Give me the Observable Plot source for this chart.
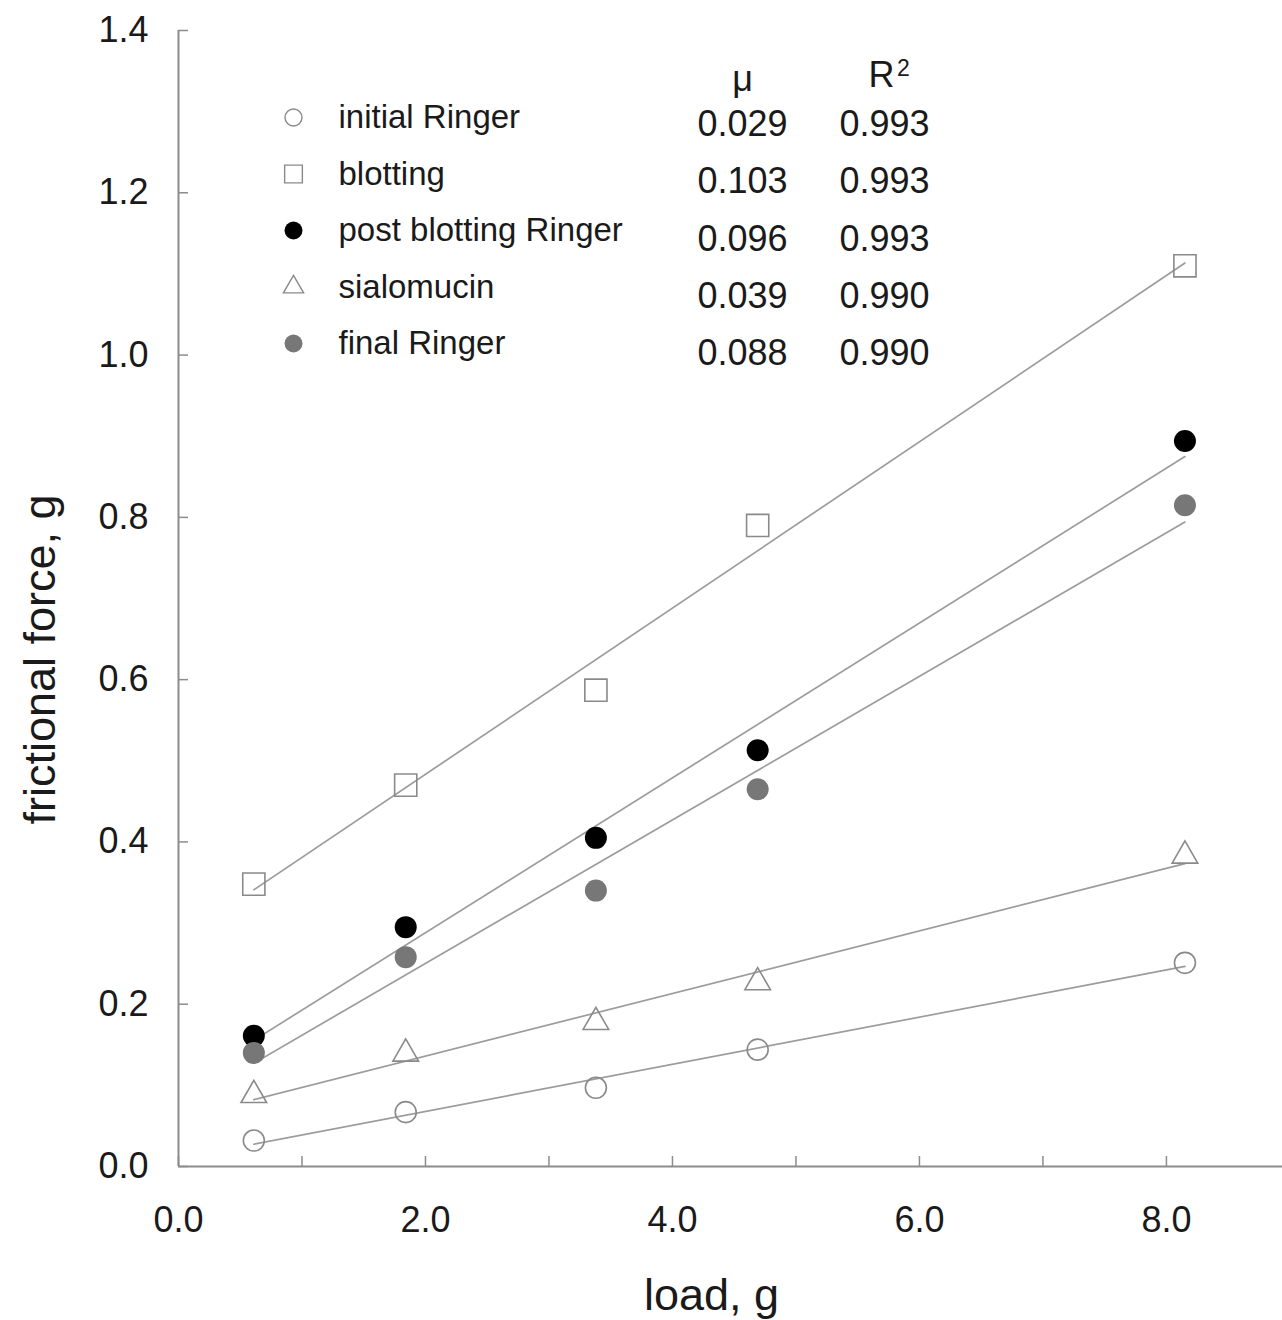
<!DOCTYPE html>
<html>
<head>
<meta charset="utf-8">
<script src="https://cdn.jsdelivr.net/npm/d3@7"></script>
<script src="https://cdn.jsdelivr.net/npm/@observablehq/plot@0.6"></script>
<style>
  html, body { margin: 0; padding: 0; background: #fff; }
  #chart { width: 1282px; height: 1320px; }
  svg { font-family: "Liberation Sans", Arial, sans-serif; }
</style>
</head>
<body>
<div id="chart"></div>
<script>
// ---- data ----
const loads = [0.61, 1.84, 3.38, 4.69, 8.15];
const seriesNames = ["initial Ringer", "blotting", "post blotting Ringer", "sialomucin", "final Ringer"];
const initialRinger = [0.032, 0.067, 0.097, 0.144, 0.251];
const blotting = [0.348, 0.470, 0.587, 0.790, 1.110];
const postBlottingRinger = [0.161, 0.295, 0.405, 0.513, 0.894];
const sialomucin = [0.088, 0.139, 0.178, 0.227, 0.383];
const finalRinger = [0.140, 0.258, 0.340, 0.465, 0.815];
const muValues = ["0.029", "0.103", "0.096", "0.039", "0.088"];
const r2Values = ["0.993", "0.993", "0.993", "0.990", "0.990"];
const xTickValues = [0, 1, 2, 3, 4, 5, 6, 7, 8];
const xTickLabels = ["0.0", "", "2.0", "", "4.0", "", "6.0", "", "8.0"];
const yTickValues = [0, 0.2, 0.4, 0.6, 0.8, 1.0, 1.2, 1.4];
const yTickLabels = ["0.0", "0.2", "0.4", "0.6", "0.8", "1.0", "1.2", "1.4"];
const xTitle = "load, g";
const yTitle = "frictional force, g";

// ---- styles ----
const axisGray = "#8c8c8c";
const lineGray = "#9c9c9c";
const textColor = "#1a1a1a";
const seriesValues = [initialRinger, blotting, postBlottingRinger, sialomucin, finalRinger];
const seriesStyle = [
  {symbol: "circle", fill: "none", stroke: "#8a8a8a", r: 10.5, lr: 8.5},
  {symbol: "square", fill: "none", stroke: "#8a8a8a", r: 12.5, lr: 10},
  {symbol: "circle", fill: "#000", stroke: "none", r: 11, lr: 9},
  {symbol: "triangle", fill: "none", stroke: "#8a8a8a", r: 9.5, lr: 7.5},
  {symbol: "circle", fill: "#777", stroke: "none", r: 11, lr: 9}
];

const rows = [];
seriesNames.forEach((name, i) => {
  loads.forEach((l, j) => rows.push({series: name, load: l, force: seriesValues[i][j]}));
});

const marks = [];
// axis lines
marks.push(Plot.ruleY([0], {stroke: axisGray, strokeWidth: 2}));
marks.push(Plot.ruleX([0], {stroke: axisGray, strokeWidth: 2}));
// axes with inward ticks
marks.push(Plot.axisX(xTickValues, {
  tickSize: -10, tickPadding: 50, stroke: axisGray, strokeWidth: 1.5,
  tickFormat: d => xTickLabels[xTickValues.indexOf(d)],
  fontSize: 36, fill: textColor, label: null
}));
marks.push(Plot.axisY(yTickValues, {
  tickSize: -10, tickPadding: 40, stroke: axisGray, strokeWidth: 1.5,
  tickFormat: d => yTickLabels[yTickValues.findIndex(v => Math.abs(v - d) < 1e-9)],
  fontSize: 36, fill: textColor, label: null
}));
// regression lines
marks.push(Plot.linearRegressionY(rows, {x: "load", y: "force", z: "series", stroke: lineGray, strokeWidth: 1.7, ci: 0}));
// points
seriesNames.forEach((name, i) => {
  const s = seriesStyle[i];
  marks.push(Plot.dot(rows.filter(d => d.series === name), {
    x: "load", y: "force", symbol: s.symbol, fill: s.fill, stroke: s.stroke, strokeWidth: 1.6, r: s.r
  }));
});
// legend
seriesNames.forEach((name, i) => {
  const s = seriesStyle[i];
  marks.push(Plot.dot([name], {frameAnchor: "top-left", dx: 115, dy: 87 + i * 56.5,
    symbol: s.symbol, fill: s.fill, stroke: s.stroke, strokeWidth: 1.4, r: s.lr}));
  marks.push(Plot.text([name], {frameAnchor: "top-left", dx: 160, dy: 87 + i * 56.5,
    text: d => d, textAnchor: "start", lineAnchor: "middle", fontSize: 33, fill: textColor}));
});
// table
marks.push(Plot.text(["μ"], {frameAnchor: "top-left", dx: 564, dy: 49, text: d => d, textAnchor: "middle", lineAnchor: "middle", fontSize: 36, fill: textColor}));
marks.push(Plot.text(["R"], {frameAnchor: "top-left", dx: 703, dy: 45, text: d => d, textAnchor: "middle", lineAnchor: "middle", fontSize: 36, fill: textColor}));
marks.push(Plot.text(["2"], {frameAnchor: "top-left", dx: 725, dy: 38, text: d => d, textAnchor: "middle", lineAnchor: "middle", fontSize: 23, fill: textColor}));
muValues.forEach((v, i) => {
  marks.push(Plot.text([v], {frameAnchor: "top-left", dx: 564, dy: 94 + i * 57.3, text: d => d, textAnchor: "middle", lineAnchor: "middle", fontSize: 36, fill: textColor}));
  marks.push(Plot.text([r2Values[i]], {frameAnchor: "top-left", dx: 706, dy: 94 + i * 57.3, text: d => d, textAnchor: "middle", lineAnchor: "middle", fontSize: 36, fill: textColor}));
});
// axis titles
marks.push(Plot.text([xTitle], {frameAnchor: "bottom", dx: -19, dy: 129, text: d => d, lineAnchor: "middle", fontSize: 45, fill: textColor}));
marks.push(Plot.text([yTitle], {frameAnchor: "left", dx: -138, dy: 226, rotate: -90, text: d => d, lineAnchor: "middle", fontSize: 45, fill: textColor}));

const chart = Plot.plot({
  width: 1282,
  height: 1320,
  marginLeft: 178,
  marginTop: 30,
  marginBottom: 154,
  marginRight: 0,
  x: {domain: [0, 8.94]},
  y: {domain: [0, 1.4]},
  style: {fontFamily: "'Liberation Sans', Arial, sans-serif", background: "#fff", overflow: "visible"},
  marks
});
document.getElementById("chart").appendChild(chart);
</script>
</body>
</html>
